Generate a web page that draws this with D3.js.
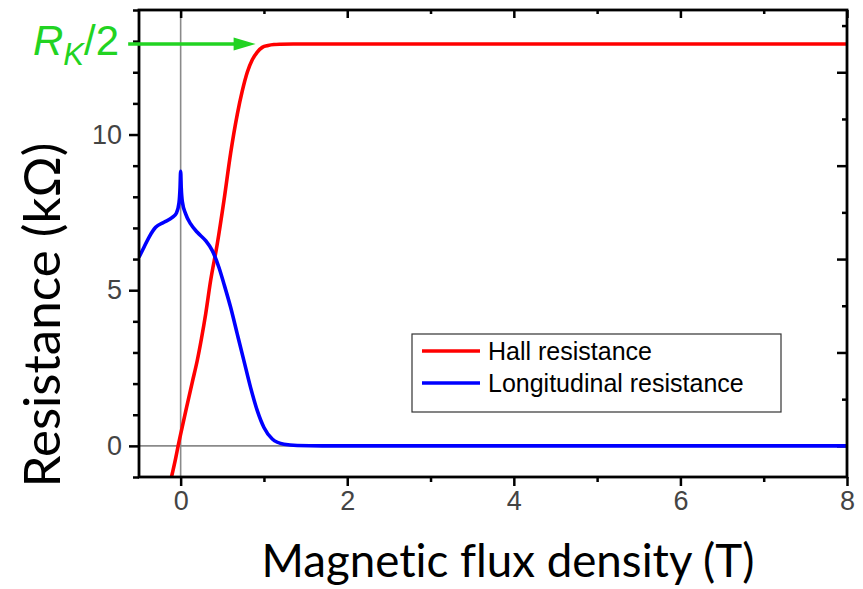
<!DOCTYPE html>
<html>
<head>
<meta charset="utf-8">
<script src="https://cdn.jsdelivr.net/npm/d3@7"></script>
<style>
  body { margin: 0; background: #fff; }
  svg { display: block; }
  text { font-variant-ligatures: none; }
</style>
</head>
<body>
<svg id="chart" width="863" height="589"></svg>
<script>
// Hall resistance vs field (T, kOhm)
var hallB = [-0.11, -0.06, -0.03, 0.02, 0.08, 0.14, 0.2, 0.25, 0.3, 0.36, 0.44, 0.52, 0.6, 0.68, 0.74, 0.8, 0.86, 0.92, 0.98, 1.05, 1.12, 1.2, 1.35, 1.6, 2, 3, 4, 5, 6, 7, 8];
var hallR = [-1.0, -0.4, 0.0, 0.62, 1.34, 2.05, 2.75, 3.45, 4.23, 5.31, 6.49, 7.88, 9.4, 10.65, 11.4, 12.0, 12.4, 12.65, 12.8, 12.86, 12.89, 12.9, 12.906, 12.906, 12.906, 12.906, 12.906, 12.906, 12.906, 12.906, 12.906];

// longitudinal resistance
var longB = [-0.5, -0.44, -0.38, -0.3, -0.2, -0.1, -0.05, -0.02, -0.007, 0, 0.007, 0.02, 0.06, 0.12, 0.2, 0.3, 0.38, 0.46, 0.52, 0.6, 0.68, 0.76, 0.84, 0.92, 1.0, 1.1, 1.24, 1.4, 1.7, 2, 3, 4, 5, 6, 7, 8];
var longR = [6.06, 6.38, 6.70, 7.02, 7.18, 7.34, 7.48, 7.8, 8.3, 8.82, 8.3, 7.85, 7.45, 7.13, 6.86, 6.59, 6.27, 5.73, 5.2, 4.45, 3.59, 2.73, 1.87, 1.13, 0.59, 0.22, 0.05, 0.01, 0, 0, 0, 0, 0, 0, 0, 0];

var seriesNames = ["Hall resistance", "Longitudinal resistance"];
var seriesColors = ["#ff0000", "#0000ff"];

var xMajor = [0, 2, 4, 6, 8],
    xMinor = [1, 3, 5, 7],
    yMajor = [0, 5, 10],
    yMinor = [-1, 1, 2, 3, 4, 6, 7, 8, 9, 11, 12, 13, 14],
    rMajor = [0, 3, 6, 9, 12],
    rMinor = [1.5, 4.5, 7.5, 10.5, 13.5];

// R_K/2 marker and arrow span (in T)
var rk2 = 12.906,
    arrowFrom = -0.63,
    arrowTo = 0.9;

var svg = d3.select('#chart'),
    pLeft = 139, pRight = 847, pTop = 10, pBottom = 477;

var x = d3.scaleLinear().domain([-0.5, 8]).range([pLeft, pRight]),
    y = d3.scaleLinear().domain([-1, 14]).range([pBottom, pTop]);

var tickFont = '"Liberation Sans", Arial, sans-serif',
    titleFont = 'Lato, "Open Sans", sans-serif';

svg.append('clipPath').attr('id', 'plot')
    .append('rect')
    .attr('x', pLeft).attr('y', pTop)
    .attr('width', pRight - pLeft).attr('height', pBottom - pTop);

// reference lines at zero
svg.append('line')
    .attr('x1', x(0)).attr('x2', x(0))
    .attr('y1', pTop).attr('y2', pBottom)
    .attr('stroke', '#8a8a8a').attr('stroke-width', 1.6);
svg.append('line')
    .attr('x1', pLeft).attr('x2', pRight)
    .attr('y1', y(0)).attr('y2', y(0))
    .attr('stroke', '#8a8a8a').attr('stroke-width', 1.6);

function addAxis(axis, tx, ty, labels) {
    var g = svg.append('g')
        .attr('transform', 'translate(' + tx + ',' + ty + ')')
        .call(axis);
    g.select('.domain').remove();
    g.selectAll('.tick line').attr('stroke', '#000').attr('stroke-width', 2.5);
    if (labels) {
        g.attr('font-family', tickFont).attr('font-size', 27);
        g.selectAll('.tick text').attr('fill', '#444');
    } else {
        g.selectAll('.tick text').remove();
    }
    return g;
}

addAxis(d3.axisBottom(x).tickValues(xMajor).tickSize(9).tickPadding(5).tickFormat(d3.format('d')), 0, pBottom, true);
addAxis(d3.axisBottom(x).tickValues(xMinor).tickSize(5), 0, pBottom, false);
addAxis(d3.axisTop(x).tickValues(xMajor).tickSize(-8), 0, pTop, false);
addAxis(d3.axisTop(x).tickValues(xMinor).tickSize(-4), 0, pTop, false);
addAxis(d3.axisLeft(y).tickValues(yMajor).tickSize(10).tickPadding(7).tickFormat(d3.format('d')), pLeft, 0, true);
addAxis(d3.axisLeft(y).tickValues(yMinor).tickSize(6), pLeft, 0, false);
addAxis(d3.axisRight(y).tickValues(rMajor).tickSize(-10), pRight, 0, false);
addAxis(d3.axisRight(y).tickValues(rMinor).tickSize(-5), pRight, 0, false);

// curves
var line = d3.line()
    .x(function (d) { return x(d[0]); })
    .y(function (d) { return y(d[1]); })
    .curve(d3.curveMonotoneX);

var series = [d3.zip(hallB, hallR), d3.zip(longB, longR)];

svg.append('g').attr('clip-path', 'url(#plot)')
    .selectAll('path')
    .data(series)
    .enter().append('path')
    .attr('d', line)
    .attr('fill', 'none')
    .attr('stroke', function (d, i) { return seriesColors[i]; })
    .attr('stroke-width', 3.6)
    .attr('stroke-linejoin', 'round');

// frame
svg.append('rect')
    .attr('x', pLeft).attr('y', pTop)
    .attr('width', pRight - pLeft).attr('height', pBottom - pTop)
    .attr('fill', 'none').attr('stroke', '#000').attr('stroke-width', 2.8);

// legend
var legend = svg.append('g').attr('transform', 'translate(412,334)');
legend.append('rect')
    .attr('width', 369).attr('height', 78)
    .attr('fill', '#fff').attr('stroke', '#333').attr('stroke-width', 1.2);
var item = legend.selectAll('.item')
    .data(seriesNames)
    .enter().append('g')
    .attr('transform', function (d, i) { return 'translate(0,' + (17 + i * 32) + ')'; });
item.append('line')
    .attr('x1', 10).attr('x2', 68)
    .attr('stroke', function (d, i) { return seriesColors[i]; })
    .attr('stroke-width', 3.6);
item.append('text')
    .attr('x', 76).attr('dy', '0.36em')
    .attr('font-family', tickFont).attr('font-size', 25)
    .attr('fill', '#000')
    .text(function (d) { return d; });

// R_K/2 arrow
var green = '#22d322';
svg.append('line')
    .attr('x1', x(arrowFrom)).attr('x2', x(arrowTo) - 18)
    .attr('y1', y(rk2)).attr('y2', y(rk2))
    .attr('stroke', green).attr('stroke-width', 3.5);
svg.append('path')
    .attr('d', 'M' + x(arrowTo) + ',' + y(rk2) +
        'l-22,-6.5 l0,13 z')
    .attr('fill', green);

var rk = svg.append('text')
    .attr('x', 33).attr('y', 55)
    .attr('font-family', tickFont).attr('font-size', 42)
    .attr('fill', green);
rk.append('tspan').attr('font-style', 'italic').text('R');
rk.append('tspan').attr('font-style', 'italic').attr('font-size', 31).attr('dy', 10).text('K');
rk.append('tspan').attr('dy', -10).text('/2');

// axis titles
var xTitle = svg.append('text')
    .attr('x', 508).attr('y', 577)
    .attr('text-anchor', 'middle')
    .attr('font-family', titleFont).attr('font-size', 50)
    .attr('fill', '#000')
    .text('Magnetic flux density (T)');
var fs = 50 * 493 / xTitle.node().getComputedTextLength();
xTitle.attr('font-size', fs);

var yTitle = svg.append('text')
    .attr('transform', 'translate(60,315) rotate(-90)')
    .attr('text-anchor', 'middle')
    .attr('font-family', titleFont).attr('font-size', 50)
    .attr('fill', '#000')
    .text('Resistance (k\u03A9)');
yTitle.attr('font-size', 50 * 345 / yTitle.node().getComputedTextLength());
</script>
</body>
</html>
